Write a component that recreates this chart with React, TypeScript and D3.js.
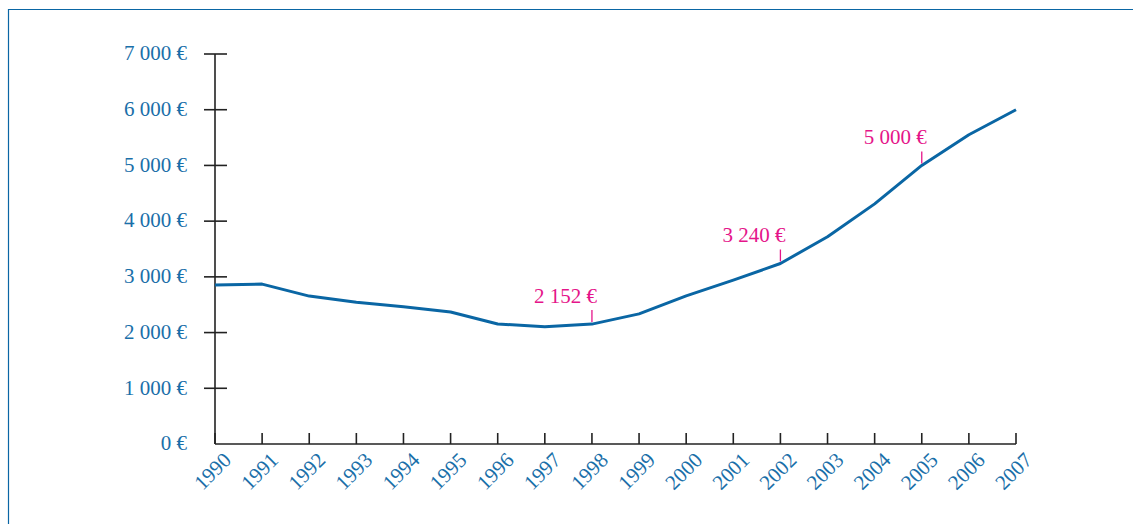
import React from "react";
import * as d3 from "d3";

const years = [1990,1991,1992,1993,1994,1995,1996,1997,1998,1999,2000,2001,2002,2003,2004,2005,2006,2007];
const values = [2855,2870,2655,2545,2465,2370,2155,2105,2152,2335,2660,2940,3240,3720,4310,5000,5550,6000];
const yTicks = [0,1000,2000,3000,4000,5000,6000,7000];
const annotations = [
  { year: 1998, label: "2 152 €" },
  { year: 2002, label: "3 240 €" },
  { year: 2005, label: "5 000 €" },
];

const W = 1133, H = 524;
const blue = "#1a6fa9";
const lineBlue = "#0a66a4";
const pink = "#e5158a";
const font = "'Liberation Serif', 'DejaVu Serif', serif";
const fs = 21;

function fmt(v: number) {
  const s = String(v);
  return s.replace(/\B(?=(\d{3})+(?!\d))/g, " ") + " €";
}

export default function App() {
  const x = d3.scaleLinear().domain([1990, 2007]).range([215, 1016]);
  const y = d3.scaleLinear().domain([0, 7000]).range([444, 54]);
  const line = d3.line<number>().x((_, i) => x(years[i])).y((d) => y(d)).curve(d3.curveLinear);
  return (
    <svg width={W} height={H} style={{ position: "absolute", left: 0, top: 0 }}>
      <rect x={0} y={0} width={W} height={H} fill="#fff" />
      <path d={`M8.5,${H + 5} V9.5 H${W + 5}`} fill="none" stroke={lineBlue} strokeWidth={1.2} />
      <line x1={215} x2={215} y1={y(7000)} y2={444} stroke="#222" strokeWidth={1.6} />
      <line x1={215} x2={1016} y1={444} y2={444} stroke="#222" strokeWidth={1.6} />
      {yTicks.map((t) => (
        <g key={t}>
          {t > 0 && <line x1={204} x2={227} y1={y(t)} y2={y(t)} stroke="#222" strokeWidth={1.6} />}
          <text x={187} y={y(t)} dy="0.3em" textAnchor="end" fontFamily={font} fontSize={fs} fill={blue}>
            {fmt(t)}
          </text>
        </g>
      ))}
      {years.map((yr) => (
        <g key={yr}>
          <line x1={x(yr)} x2={x(yr)} y1={433} y2={444} stroke="#222" strokeWidth={1.6} />
          <text
            transform={`translate(${x(yr) + 7},${451}) rotate(-45)`}
            textAnchor="end"
            dy="0.7em"
            fontFamily={font}
            fontSize={fs}
            fill={blue}
          >
            {yr}
          </text>
        </g>
      ))}
      <path d={line(values) || ""} fill="none" stroke={lineBlue} strokeWidth={3} strokeLinejoin="round" />
      {annotations.map((a) => {
        const i = years.indexOf(a.year);
        const px = x(a.year);
        const py = y(values[i]);
        return (
          <g key={a.year}>
            <line x1={px} x2={px} y1={py - 2} y2={py - 14} stroke={pink} strokeWidth={1.3} />
            <text x={px + 5} y={py - 21} textAnchor="end" fontFamily={font} fontSize={fs} fill={pink}>
              {a.label}
            </text>
          </g>
        );
      })}
    </svg>
  );
}
